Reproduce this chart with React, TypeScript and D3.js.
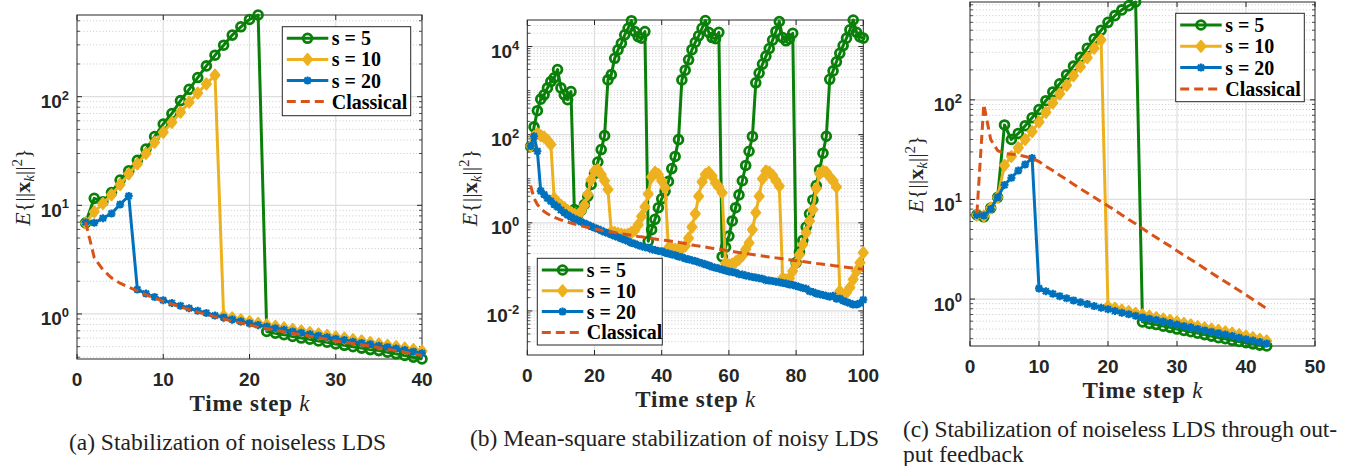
import React from 'react'
import * as d3 from 'd3'

const SERIF = "'Liberation Serif', 'Times New Roman', serif"
const SANS = "'Liberation Sans', Arial, Helvetica, sans-serif"

const GREEN = '#0a800a'
const YELLOW = '#EDB120'
const BLUE = '#0072BD'
const RED = '#D95319'

const legendNames = ['s = 5', 's = 10', 's = 20', 'Classical']

// (a) noiseless LDS, k = 1..40
const aS5 = [6.9, 11.6, 10.8, 13.1, 17.1, 20.8, 26, 33, 43, 56, 70, 92, 117, 150, 192, 241, 298, 369, 440, 514, 565,
  0.69, 0.665, 0.645, 0.62, 0.6, 0.585, 0.565, 0.55, 0.53, 0.515, 0.5, 0.485, 0.47, 0.46, 0.445, 0.43, 0.415, 0.4, 0.385]
const aS10 = [6.9, 8.7, 10.4, 12.5, 15.5, 19.5, 24, 30, 38, 47, 58, 72, 89, 108, 131, 158,
  0.96, 0.92, 0.885, 0.85, 0.82, 0.795, 0.77, 0.745, 0.72, 0.7, 0.675, 0.655, 0.635, 0.615, 0.6, 0.58, 0.565, 0.545, 0.53, 0.515, 0.5, 0.485, 0.47, 0.455]
const aS20 = [7.0, 6.9, 7.6, 8.4, 10.2, 12.2,
  1.68, 1.54, 1.43, 1.34, 1.26, 1.19, 1.13, 1.07, 1.02, 0.97, 0.93, 0.89, 0.855, 0.82, 0.79, 0.765, 0.74, 0.715, 0.69, 0.67, 0.65, 0.63, 0.61, 0.59, 0.575, 0.555, 0.54, 0.525, 0.51, 0.495, 0.48, 0.465, 0.45, 0.435]
const aClassical = [7.0, 3.3, 2.55, 2.15, 1.92, 1.76, 1.63, 1.5, 1.4, 1.31, 1.23, 1.16, 1.1, 1.04, 0.99, 0.94, 0.9, 0.86, 0.825, 0.79,
  0.76, 0.735, 0.71, 0.685, 0.665, 0.645, 0.625, 0.605, 0.585, 0.565, 0.55, 0.535, 0.52, 0.505, 0.49, 0.475, 0.46, 0.445, 0.43, 0.415]

// (b) noisy LDS, k = 1..100
const bS5 = [54, 150, 350, 640, 800, 1150, 1600, 1950, 3000, 1150, 800, 620, 950,
  2.0, 1.5, 1.9, 2.6, 4.0, 7.4, 13, 24, 46, 95,
  1750, 2300, 5400, 8400, 11800, 18400, 26000, 38600, 21800, 16700, 15400, 21800,
  0.38, 0.7, 1.2, 2.2, 3.5, 5.2, 8.7, 17, 32, 77,
  1750, 2900, 5000, 8500, 12500, 17500, 26000, 39000, 21000, 16000, 15000, 21000,
  0.17, 0.28, 0.5, 1.1, 2.2, 4.3, 9, 20, 42, 91,
  1500, 2500, 4000, 6000, 9000, 14000, 22000, 37000, 16000, 13500, 15000, 20000,
  0.125, 0.22, 0.4, 0.8, 1.6, 3.3, 7, 16, 38, 92,
  1800, 2800, 4500, 7000, 10500, 15500, 24000, 40000, 21000, 16500, 15500]
const bS10 = [55, 90, 105, 95, 88, 75, 60,
  3.6, 2.9, 2.5, 2.2, 1.9, 1.7, 1.55, 1.5, 1.8, 2.5, 4.4, 9.5, 15, 16, 12.5, 9, 5.7,
  0.62, 0.6, 0.57, 0.55, 0.53, 0.55, 0.6, 0.68, 0.9, 1.4, 2.3, 4.5, 11, 14, 12.5, 9, 6.2,
  0.27, 0.26, 0.25, 0.25, 0.26, 0.3, 0.45, 0.8, 1.6, 4, 8.5, 12.5, 14, 11.5, 8, 6.5, 4.8,
  0.12, 0.11, 0.115, 0.13, 0.15, 0.18, 0.25, 0.35, 0.7, 1.7, 4, 10, 15, 14, 12, 9, 6.8,
  0.055, 0.05, 0.055, 0.08, 0.12, 0.19, 0.32, 0.6, 1.1, 2, 6, 13, 15, 14, 11, 9, 6.5,
  0.028, 0.022, 0.026, 0.034, 0.052, 0.08, 0.124, 0.21]
const bS20 = [55, 92, 42, 5.3, 4.4, 3.6, 3.1, 2.6, 2.3, 1.95, 1.7, 1.5, 1.36, 1.24, 1.14, 1.05, 0.97, 0.9, 0.83, 0.77,
  0.72, 0.67, 0.62, 0.58, 0.54, 0.5, 0.47, 0.44, 0.41, 0.38, 0.35, 0.335, 0.31, 0.295, 0.28, 0.27, 0.25, 0.24, 0.23, 0.225,
  0.21, 0.2, 0.19, 0.183, 0.172, 0.165, 0.155, 0.148, 0.142, 0.135, 0.127, 0.121, 0.114, 0.108, 0.1, 0.096, 0.092, 0.087, 0.083, 0.079,
  0.076, 0.074, 0.068, 0.067, 0.064, 0.061, 0.059, 0.057, 0.055, 0.054, 0.05, 0.049, 0.048, 0.046, 0.045, 0.043, 0.042, 0.04, 0.039, 0.037,
  0.035, 0.033, 0.032, 0.028, 0.027, 0.025, 0.024, 0.023, 0.022, 0.021, 0.022, 0.019, 0.019, 0.017, 0.016, 0.015, 0.014, 0.014, 0.015, 0.018]
const bClassical = [7.0, 3.6, 2.6, 2.1, 1.8, 1.6, 1.45, 1.34, 1.25, 1.17, 1.1, 1.04, 0.99, 0.94, 0.9, 0.86, 0.82, 0.79, 0.76, 0.73,
  0.705, 0.68, 0.66, 0.64, 0.62, 0.6, 0.58, 0.565, 0.55, 0.535, 0.52, 0.505, 0.49, 0.48, 0.465, 0.455, 0.44, 0.43, 0.42, 0.41,
  0.4, 0.39, 0.38, 0.37, 0.36, 0.35, 0.34, 0.33, 0.315, 0.305, 0.297, 0.289, 0.281, 0.273, 0.265, 0.258, 0.251, 0.244, 0.237, 0.23,
  0.224, 0.218, 0.212, 0.206, 0.2, 0.195, 0.19, 0.185, 0.18, 0.176, 0.172, 0.168, 0.164, 0.16, 0.156, 0.152, 0.148, 0.145, 0.141, 0.138,
  0.135, 0.132, 0.129, 0.126, 0.123, 0.12, 0.117, 0.115, 0.112, 0.11, 0.107, 0.105, 0.102, 0.1, 0.098, 0.096, 0.094, 0.092, 0.09, 0.088]

// (c) output feedback, k = 1..43
const cS5 = [7, 6.7, 8.2, 10.5, 56, 40, 46, 55, 66, 80, 98, 120, 145, 178, 218, 268, 330, 410, 500, 600, 700, 800, 880, 960,
  0.59, 0.57, 0.555, 0.535, 0.52, 0.5, 0.485, 0.47, 0.455, 0.44, 0.425, 0.41, 0.4, 0.385, 0.375, 0.365, 0.355, 0.345, 0.338]
const cS10 = [7, 6.8, 8.2, 10.5, 22, 27, 33, 40, 48, 60, 75, 93, 115, 140, 175, 215, 265, 330, 400,
  0.84, 0.81, 0.775, 0.75, 0.72, 0.695, 0.675, 0.65, 0.63, 0.61, 0.59, 0.57, 0.55, 0.53, 0.515, 0.5, 0.485, 0.47, 0.455, 0.44, 0.425, 0.41, 0.395, 0.38]
const cS20 = [7, 6.9, 8.0, 10.5, 14, 16.5, 19.5, 22.5, 26,
  1.28, 1.2, 1.13, 1.07, 1.02, 0.97, 0.93, 0.89, 0.85, 0.82, 0.79, 0.76, 0.73, 0.705, 0.68, 0.655, 0.635, 0.615, 0.595, 0.575, 0.555,
  0.535, 0.52, 0.5, 0.485, 0.47, 0.455, 0.44, 0.425, 0.41, 0.395, 0.383, 0.37, 0.358]
const cClassical = [7.2, 90, 40, 31, 29, 28.5, 28, 27, 26, 24, 21.5, 19.5, 17.5, 15.8, 14.2, 12.8, 11.6, 10.5, 9.5, 8.6,
  7.8, 7.0, 6.3, 5.7, 5.1, 4.6, 4.15, 3.75, 3.4, 3.05, 2.75, 2.5, 2.25, 2.03, 1.83, 1.65, 1.49, 1.35, 1.22, 1.1, 0.99, 0.89, 0.8]

type Mk = 'o' | 'd' | '*' | null
const styles: { color: string; marker: Mk; dash?: string }[] = [
  { color: GREEN, marker: 'o' },
  { color: YELLOW, marker: 'd' },
  { color: BLUE, marker: '*' },
  { color: RED, marker: null, dash: '9,5' },
]

type PanelCfg = {
  left: number; right: number; top: number; bottom: number
  xMax: number; xStep: number
  yMin?: number
  yMajor: number[]
  series: number[][]
  legend: { x: number; y: number; w: number; h: number; row0: number; gap: number }
  yLabelOff: number
}

function Marker({ kind, cx, cy, color }: { kind: Mk; cx: number; cy: number; color: string }) {
  if (kind === 'o') return <circle cx={cx} cy={cy} r={4.4} fill="none" stroke={color} strokeWidth={2.8} />
  if (kind === 'd')
    return <path d={`M${cx},${cy - 5.4}L${cx + 4.4},${cy}L${cx},${cy + 5.4}L${cx - 4.4},${cy}Z`}
      fill={color} stroke={color} strokeWidth={2.2} strokeLinejoin="round" />
  if (kind === '*')
    return <path d={`M${cx - 4},${cy}H${cx + 4}M${cx},${cy - 4}V${cy + 4}M${cx - 3},${cy - 3}L${cx + 3},${cy + 3}M${cx - 3},${cy + 3}L${cx + 3},${cy - 3}`}
      stroke={color} strokeWidth={2.2} fill="none" />
  return null
}

function Panel({ p }: { p: PanelCfg }) {
  const all = p.series.flat()
  const yDomain: [number, number] = [p.yMin ?? (d3.min(all) as number), d3.max(all) as number]
  const x = d3.scaleLinear().domain([0, p.xMax]).range([p.left, p.right])
  const y = d3.scaleLog().domain(yDomain).range([p.bottom, p.top])
  const xTicks = d3.range(0, p.xMax + 1, p.xStep)
  const lo = Math.floor(Math.log10(yDomain[0]))
  const hi = Math.ceil(Math.log10(yDomain[1]))
  const minor: number[] = []
  for (let e = lo; e <= hi; e++) {
    for (let m = 1; m < 10; m++) {
      const v = m * Math.pow(10, e)
      if (v > yDomain[0] * 1.001 && v < yDomain[1] * 0.999 && !(m === 1 && p.yMajor.includes(e))) minor.push(v)
    }
  }
  const line = d3.line<number>().x((_, i) => x(i + 1)).y(d => y(d))
  const midY = (p.top + p.bottom) / 2
  const midX = (p.left + p.right) / 2
  const lg = p.legend
  return (
    <g>
      {/* grid */}
      {minor.map((v, i) => (
        <line key={'mg' + i} x1={p.left} x2={p.right} y1={y(v)} y2={y(v)} stroke="#c4c4c4" strokeWidth={0.9} strokeDasharray="1,2.2" />
      ))}
      {p.yMajor.map(e => (
        <line key={'yg' + e} x1={p.left} x2={p.right} y1={y(Math.pow(10, e))} y2={y(Math.pow(10, e))} stroke="#dedede" strokeWidth={1.2} />
      ))}
      {xTicks.slice(1, -1).map(t => (
        <line key={'xg' + t} x1={x(t)} x2={x(t)} y1={p.top} y2={p.bottom} stroke="#dedede" strokeWidth={1.2} />
      ))}
      {/* ticks */}
      {minor.map((v, i) => (
        <g key={'mt' + i} stroke="#262626" strokeWidth={0.8}>
          <line x1={p.left} x2={p.left + 3} y1={y(v)} y2={y(v)} />
          <line x1={p.right} x2={p.right - 3} y1={y(v)} y2={y(v)} />
        </g>
      ))}
      {p.yMajor.map(e => (
        <g key={'yt' + e} stroke="#262626" strokeWidth={1}>
          <line x1={p.left} x2={p.left + 5} y1={y(Math.pow(10, e))} y2={y(Math.pow(10, e))} />
          <line x1={p.right} x2={p.right - 5} y1={y(Math.pow(10, e))} y2={y(Math.pow(10, e))} />
        </g>
      ))}
      {xTicks.map(t => (
        <g key={'xt' + t} stroke="#262626" strokeWidth={1}>
          <line x1={x(t)} x2={x(t)} y1={p.bottom} y2={p.bottom - 5} />
          <line x1={x(t)} x2={x(t)} y1={p.top} y2={p.top + 5} />
        </g>
      ))}
      <rect x={p.left} y={p.top} width={p.right - p.left} height={p.bottom - p.top} fill="none" stroke="#262626" strokeWidth={1} />
      {/* tick labels */}
      {xTicks.map(t => (
        <text key={'xl' + t} x={x(t)} y={p.bottom + 27} textAnchor="middle" fontFamily={SANS} fontWeight="bold" fontSize={19} fill="#262626">{t}</text>
      ))}
      {p.yMajor.map(e => (
        <text key={'yl' + e} x={p.left - 8} y={y(Math.pow(10, e)) + 11.5} textAnchor="end" fontFamily={SANS} fontWeight="bold" fontSize={19} fill="#262626">
          10<tspan dy={-8.5} fontSize={13}>{e}</tspan>
        </text>
      ))}
      {/* axis labels */}
      <text x={midX} y={p.bottom + 52} textAnchor="middle" fontFamily={SERIF} fontSize={23} fill="#262626">
        <tspan fontWeight="bold" letterSpacing={0.8}>Time step </tspan><tspan fontStyle="italic">k</tspan>
      </text>
      <text transform={`translate(${p.left - p.yLabelOff},${midY}) rotate(-90)`} textAnchor="middle" fontFamily={SERIF} fontSize={22} fill="#262626">
        <tspan fontStyle="italic">E</tspan><tspan>{'{||'}</tspan><tspan fontWeight="bold">x</tspan>
        <tspan fontStyle="italic" fontSize={15} dy={4}>k</tspan><tspan dy={-4}>{'||'}</tspan>
        <tspan fontSize={15} dy={-8}>2</tspan><tspan dy={8}>{'}'}</tspan>
      </text>
      {/* series */}
      {p.series.map((vals, si) => {
        const st = styles[si]
        return (
          <g key={'s' + si}>
            <path d={line(vals) || ''} fill="none" stroke={st.color} strokeWidth={3} strokeDasharray={st.dash} strokeLinejoin="round" />
            {st.marker && vals.map((v, i) => <Marker key={i} kind={st.marker} cx={x(i + 1)} cy={y(v)} color={st.color} />)}
          </g>
        )
      })}
      {/* legend */}
      <rect x={lg.x} y={lg.y} width={lg.w} height={lg.h} fill="#fff" stroke="#262626" strokeWidth={1} />
      {legendNames.map((name, i) => {
        const ry = lg.row0 + i * lg.gap
        const st = styles[i]
        const x1 = lg.x + 4.5
        const x2 = lg.x + 46
        return (
          <g key={'lg' + i}>
            <line x1={x1} x2={x2} y1={ry} y2={ry} stroke={st.color} strokeWidth={3} strokeDasharray={st.dash} />
            {st.marker && <Marker kind={st.marker} cx={(x1 + x2) / 2} cy={ry} color={st.color} />}
            <text x={lg.x + 49.5} y={ry + 7} fontFamily={SERIF} fontWeight="bold" fontSize={20} fill="#000">{name}</text>
          </g>
        )
      })}
    </g>
  )
}

const panelA: PanelCfg = {
  left: 77, right: 422, top: 15, bottom: 359, xMax: 40, xStep: 10, yMajor: [0, 1, 2],
  series: [aS5, aS10, aS20, aClassical],
  legend: { x: 282.3, y: 26.7, w: 128.4, h: 89, row0: 38.3, gap: 21.1 }, yLabelOff: 47,
}
const panelB: PanelCfg = {
  left: 527.3, right: 863.3, top: 20, bottom: 355, xMax: 100, xStep: 20, yMin: 0.001, yMajor: [-2, 0, 2, 4],
  series: [bS5, bS10, bS20, bClassical],
  legend: { x: 537.3, y: 258.3, w: 125, h: 86.7, row0: 270, gap: 20.8 }, yLabelOff: 50,
}
const panelC: PanelCfg = {
  left: 970, right: 1315, top: 2, bottom: 346, xMax: 50, xStep: 10, yMajor: [0, 1, 2],
  series: [cS5, cS10, cS20, cClassical],
  legend: { x: 1175.7, y: 13.3, w: 128.6, h: 88.4, row0: 25, gap: 21.3 }, yLabelOff: 47,
}

export default function App() {
  return (
    <svg width={1354} height={466} style={{ position: 'absolute', left: 0, top: 0, background: '#fff' }}>
      <rect width={1354} height={466} fill="#fff" />
      <Panel p={panelA} />
      <Panel p={panelB} />
      <Panel p={panelC} />
      <text x={227.5} y={450} textAnchor="middle" fontFamily={SERIF} fontSize={23.5} fill="#222">(a) Stabilization of noiseless LDS</text>
      <text x={674.5} y={446} textAnchor="middle" fontFamily={SERIF} fontSize={23.5} fill="#222">(b) Mean-square stabilization of noisy LDS</text>
      <text x={903} y={437} textLength={434} lengthAdjust="spacing" fontFamily={SERIF} fontSize={23.5} fill="#222">(c) Stabilization of noiseless LDS through out-</text>
      <text x={903} y={462} fontFamily={SERIF} fontSize={23.5} fill="#222">put feedback</text>
    </svg>
  )
}
